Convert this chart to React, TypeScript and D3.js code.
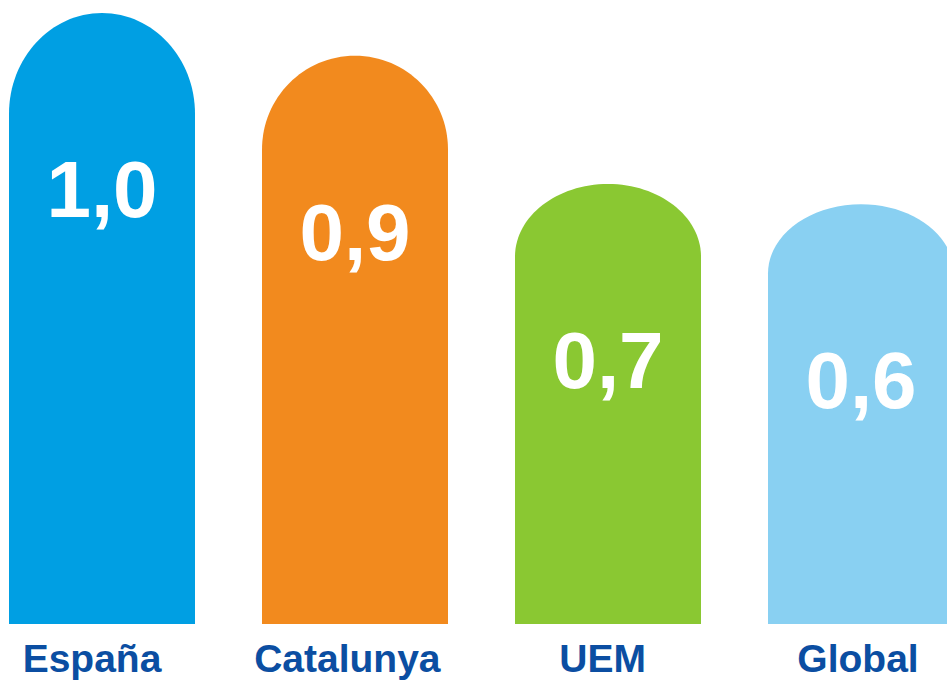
import React from "react";
import * as d3 from "d3";

const categories = ["España", "Catalunya", "UEM", "Global"];
const values = [1.0, 0.93, 0.72, 0.687];
const valueLabels = ["1,0", "0,9", "0,7", "0,6"];
const colors = ["#009FE3", "#F28A1E", "#8AC832", "#89D0F2"];

const W = 947;
const H = 682;

export default function App() {
  const x = d3
    .scaleBand<string>()
    .domain(categories)
    .range([9, 9 + 3 * 253 + 186])
    .paddingInner((253 - 186) / 253)
    .paddingOuter(0);
  const labelX = d3.scalePoint<string>().domain(categories).range([92, 858]);
  const y = d3.scaleLinear().domain([0, 1]).range([624, 13]);
  const bw = x.bandwidth();

  const barPath = (cat: string, v: number) => {
    const x0 = x(cat) as number;
    const top = y(v);
    const bottom = y(0);
    const h = bottom - top;
    const rx = bw / 2;
    const ry = h * 0.165;
    const p = d3.path();
    p.moveTo(x0, bottom);
    p.lineTo(x0, top + ry);
    const k = 0.5523;
    p.bezierCurveTo(x0, top + ry - ry * k, x0 + rx - rx * k, top, x0 + rx, top);
    p.bezierCurveTo(x0 + rx + rx * k, top, x0 + bw, top + ry - ry * k, x0 + bw, top + ry);
    p.lineTo(x0 + bw, bottom);
    p.closePath();
    return p.toString();
  };

  return (
    <svg
      width={W}
      height={H}
      style={{ position: "absolute", left: 0, top: 0, background: "#fff" }}
      fontFamily="'Liberation Sans', Arial, sans-serif"
    >
      {categories.map((c, i) => (
        <g key={c}>
          <path d={barPath(c, values[i])} fill={colors[i]} />
          <text
            x={(x(c) as number) + bw / 2}
            y={y(values[i]) + 204}
            textAnchor="middle"
            fontSize={80}
            fontWeight="bold"
            fill="#ffffff"
          >
            {valueLabels[i]}
          </text>
          <text
            x={labelX(c) as number}
            y={672}
            textAnchor="middle"
            fontSize={39}
            fontWeight="bold"
            fill="#0B4EA2"
          >
            {c}
          </text>
        </g>
      ))}
    </svg>
  );
}
